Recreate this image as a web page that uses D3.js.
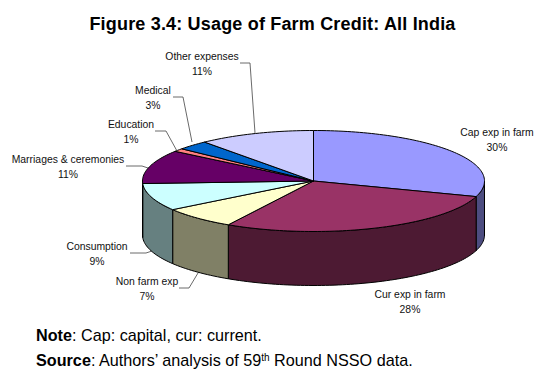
<!DOCTYPE html>
<html>
<head>
<meta charset="utf-8">
<script src="https://cdn.jsdelivr.net/npm/d3@7"></script>
<style>
html, body { margin: 0; padding: 0; background: #fff; }
svg { display: block; }
text { font-family: "Liberation Sans", Arial, sans-serif; }
</style>
</head>
<body>
<div class="vis"></div>
<script>
var w = 544;
var h = 379;

// Chart data, clockwise from 12 o'clock (labels show the rounded share)
var categories = ["Cap exp in farm", "Cur exp in farm", "Non farm exp", "Consumption", "Marriages & ceremonies", "Education", "Medical", "Other expenses"];
var values = [30, 28.3, 7.1, 8.8, 10.8, 1, 3, 11];
var topColors = ["#9999ff", "#993366", "#ffffcc", "#ccffff", "#660066", "#ff8080", "#0066cc", "#ccccff"];
var sideColors = ["#4d4d80", "#4d1a33", "#808066", "#668080", "#330033", "#804040", "#003366", "#666680"];

// Label centres [x, y of the first line]
var labelPos = [[497, 136], [410, 298], [147, 285], [97, 250], [68, 163], [131, 128], [153, 94], [202, 60]];
// Leader lines, null where the label has none
var leaders = [
    null,
    null,
    [[179, 288], [189, 288], [198, 273]],
    [[130, 253], [146, 253], [152, 251]],
    [[126, 166], [142, 166], [148, 168]],
    [[155, 131], [166, 131], [177, 151]],
    [[173, 97], [183, 97], [192, 142]],
    [[240, 63], [250, 63], [255, 133]]
];

var cx = 313.5;
var cy = 181;
var rx = 171;
var ry = 50.5;
var depth = 54;

var svg = d3.select(".vis")
    .append("svg")
    .attr("width", w)
    .attr("height", h);

// Unit scales, stretched to the ellipse of the tilted pie
var xScale = d3.scaleLinear().domain([-1, 1]).range([cx - rx, cx + rx]);
var yScale = d3.scaleLinear().domain([-1, 1]).range([cy - ry, cy + ry]);

var pie = d3.pie().sort(null).value(d => d);
var slices = pie(values);

function rimPoint(a, dy) {
    return [xScale(Math.sin(a)), yScale(-Math.cos(a)) + dy];
}

function topPath(d) {
    var pts = [[cx, cy]];
    var n = Math.max(2, Math.ceil((d.endAngle - d.startAngle) * 40));
    d3.range(n + 1).forEach(i => {
        pts.push(rimPoint(d.startAngle + (d.endAngle - d.startAngle) * i / n, 0));
    });
    return d3.line()(pts) + "Z";
}

// Only the front half of the rim shows a wall
function sidePath(d) {
    var a0 = Math.max(d.startAngle, Math.PI / 2);
    var a1 = Math.min(d.endAngle, Math.PI * 1.5);
    if (a1 <= a0) return null;
    var n = Math.ceil((a1 - a0) * 40);
    var upper = d3.range(n + 1).map(i => rimPoint(a0 + (a1 - a0) * i / n, 0));
    var lower = upper.map(p => [p[0], p[1] + depth]).reverse();
    return d3.line()(upper.concat(lower)) + "Z";
}

svg.selectAll("path.side")
    .data(slices.filter(d => sidePath(d)))
    .enter()
    .append("path")
    .attr("class", "side")
    .attr("d", sidePath)
    .attr("fill", d => sideColors[d.index])
    .attr("stroke", "#000")
    .attr("stroke-width", 1);

svg.selectAll("path.top")
    .data(slices)
    .enter()
    .append("path")
    .attr("class", "top")
    .attr("d", topPath)
    .attr("fill", d => topColors[d.index])
    .attr("stroke", "#000")
    .attr("stroke-width", 1)
    .attr("stroke-linejoin", "round");

// Leader lines
svg.selectAll("path.leader")
    .data(leaders.filter(d => d))
    .enter()
    .append("path")
    .attr("class", "leader")
    .attr("d", d => d3.line()(d))
    .attr("fill", "none")
    .attr("stroke", "#444")
    .attr("stroke-width", 0.8);

// Slice labels
var labels = svg.selectAll("g.label")
    .data(categories)
    .enter()
    .append("g")
    .attr("class", "label")
    .attr("text-anchor", "middle")
    .attr("font-size", 10.4)
    .attr("fill", "#111");

labels.append("text")
    .attr("x", (d, i) => labelPos[i][0])
    .attr("y", (d, i) => labelPos[i][1])
    .text(d => d);

labels.append("text")
    .attr("x", (d, i) => labelPos[i][0])
    .attr("y", (d, i) => labelPos[i][1] + 14.5)
    .text((d, i) => Math.round(values[i]) + "%");

// Title
svg.append("text")
    .attr("x", 272.5)
    .attr("y", 30)
    .attr("text-anchor", "middle")
    .attr("font-size", 18)
    .attr("letter-spacing", 0.18)
    .attr("font-weight", "bold")
    .attr("fill", "#000")
    .text("Figure 3.4: Usage of Farm Credit: All India");

// Notes
var note = svg.append("text")
    .attr("x", 36)
    .attr("y", 341)
    .attr("font-size", 16.2)
    .attr("fill", "#000");
note.append("tspan").attr("font-weight", "bold").text("Note");
note.append("tspan").text(": Cap: capital, cur: current.");

var source = svg.append("text")
    .attr("x", 36)
    .attr("y", 366)
    .attr("font-size", 16.2)
    .attr("fill", "#000");
source.append("tspan").attr("font-weight", "bold").text("Source");
source.append("tspan").text(": Authors’ analysis of 59");
source.append("tspan").attr("font-size", 10).attr("dy", -5).text("th");
source.append("tspan").attr("dy", 5).text(" Round NSSO data.");
</script>
</body>
</html>
